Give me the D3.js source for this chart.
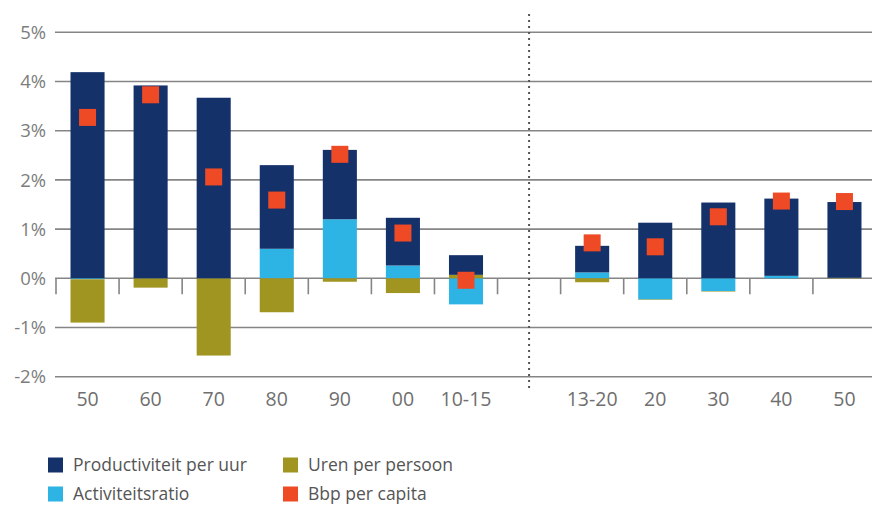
<!DOCTYPE html>
<html>
<head>
<meta charset="utf-8">
<script src="https://cdn.jsdelivr.net/npm/d3@7"></script>
<style>
  html, body { margin: 0; padding: 0; background: #fff; }
  svg { display: block; }
  text { font-family: "Open Sans", "Noto Sans", sans-serif; }
</style>
</head>
<body>
<svg id="chart" width="872" height="507"></svg>
<script>
// ---- data ----
const categories = ["50", "60", "70", "80", "90", "00", "10-15", "", "13-20", "20", "30", "40", "50"];
const productiviteit = [4.19, 3.92, 3.67, 1.70, 1.41, 0.97, 0.40, null, 0.54, 1.13, 1.54, 1.57, 1.54];
const activiteitsratio = [-0.02, 0.00, 0.00, 0.60, 1.20, 0.26, -0.53, null, 0.12, -0.43, -0.26, 0.05, 0.00];
const urenPerPersoon = [-0.88, -0.19, -1.57, -0.69, -0.07, -0.30, 0.07, null, -0.08, -0.01, -0.01, 0.00, 0.01];
const bbpPerCapita = [3.27, 3.73, 2.06, 1.59, 2.52, 0.92, -0.04, null, 0.72, 0.64, 1.25, 1.57, 1.56];
const yTicks = [-2, -1, 0, 1, 2, 3, 4, 5];
const seriesNames = ["Productiviteit per uur", "Activiteitsratio", "Uren per persoon", "Bbp per capita"];
const colors = { prod: "#14316a", act: "#2db4e4", uren: "#a09521", bbp: "#ee4a25" };

// ---- layout ----
const svg = d3.select("#chart");
const x = d3.scaleBand()
  .domain(categories.map((d, i) => i))
  .range([56, 876])
  .paddingInner(0.46)
  .paddingOuter(0.23);
const y = d3.scaleLinear().domain([-2, 5]).range([376.7, 32.3]);
const gridColor = "#858585";

// gridlines
svg.append("g").selectAll("line").data(yTicks).join("line")
  .attr("x1", 55).attr("x2", 872)
  .attr("y1", d => y(d)).attr("y2", d => y(d))
  .attr("stroke", gridColor).attr("stroke-width", 1.6);

// y labels
svg.append("g").selectAll("text").data(yTicks).join("text")
  .attr("x", 46).attr("y", d => y(d))
  .attr("dy", "0.36em")
  .attr("text-anchor", "end")
  .attr("font-size", 18.5)
  .attr("fill", "#7d7d7d")
  .text(d => d + "%");

// category boundary ticks on zero line
const bounds = categories.map((d, i) => x(i) - x.step() * x.paddingInner() / 2);
svg.append("g").selectAll("line").data(bounds).join("line")
  .attr("x1", d => d).attr("x2", d => d)
  .attr("y1", y(0)).attr("y2", y(0) + 16)
  .attr("stroke", gridColor).attr("stroke-width", 1.6);

// stacked bars
const rows = categories.map((c, i) => ({
  i, act: activiteitsratio[i], uren: urenPerPersoon[i], prod: productiviteit[i]
})).filter(d => d.prod !== null);
const stack = d3.stack().keys(["act", "uren", "prod"]).offset(d3.stackOffsetDiverging);
const stacked = stack(rows);
svg.append("g").selectAll("g").data(stacked).join("g")
  .attr("fill", s => colors[s.key])
  .selectAll("rect").data(s => s).join("rect")
  .attr("x", d => x(d.data.i))
  .attr("width", x.bandwidth())
  .attr("y", d => y(Math.max(d[0], d[1])))
  .attr("height", d => Math.abs(y(d[0]) - y(d[1])));

// dotted separator
const sepX = x(7) + x.bandwidth() / 2;
svg.append("line")
  .attr("x1", sepX).attr("x2", sepX)
  .attr("y1", 14).attr("y2", 392)
  .attr("stroke", "#555").attr("stroke-width", 2)
  .attr("stroke-dasharray", "2,4");

// bbp markers
const sq = 17;
svg.append("g").selectAll("rect").data(bbpPerCapita.map((v, i) => ({ v, i })).filter(d => d.v !== null))
  .join("rect")
  .attr("x", d => x(d.i) + x.bandwidth() / 2 - sq / 2)
  .attr("y", d => y(d.v) - sq / 2)
  .attr("width", sq).attr("height", sq)
  .attr("fill", colors.bbp);

// category labels
svg.append("g").selectAll("text").data(categories).join("text")
  .attr("x", (d, i) => x(i) + x.bandwidth() / 2)
  .attr("y", 399)
  .attr("dy", "0.36em")
  .attr("text-anchor", "middle")
  .attr("font-size", 19.5)
  .attr("fill", "#6f6f6f")
  .text(d => d);

// legend
const legendItems = [
  { name: seriesNames[0], color: colors.prod, x: 48, y: 465 },
  { name: seriesNames[2], color: colors.uren, x: 283, y: 465 },
  { name: seriesNames[1], color: colors.act, x: 48, y: 494 },
  { name: seriesNames[3], color: colors.bbp, x: 283, y: 494 }
];
const lg = svg.append("g").selectAll("g").data(legendItems).join("g")
  .attr("transform", d => `translate(${d.x},${d.y})`);
lg.append("rect").attr("x", 0).attr("y", -7.5).attr("width", 15).attr("height", 15)
  .attr("fill", d => d.color);
lg.append("text").attr("x", 25).attr("y", 0).attr("dy", "0.36em")
  .attr("font-size", 17.5).attr("fill", "#555")
  .text(d => d.name);
</script>
</body>
</html>
